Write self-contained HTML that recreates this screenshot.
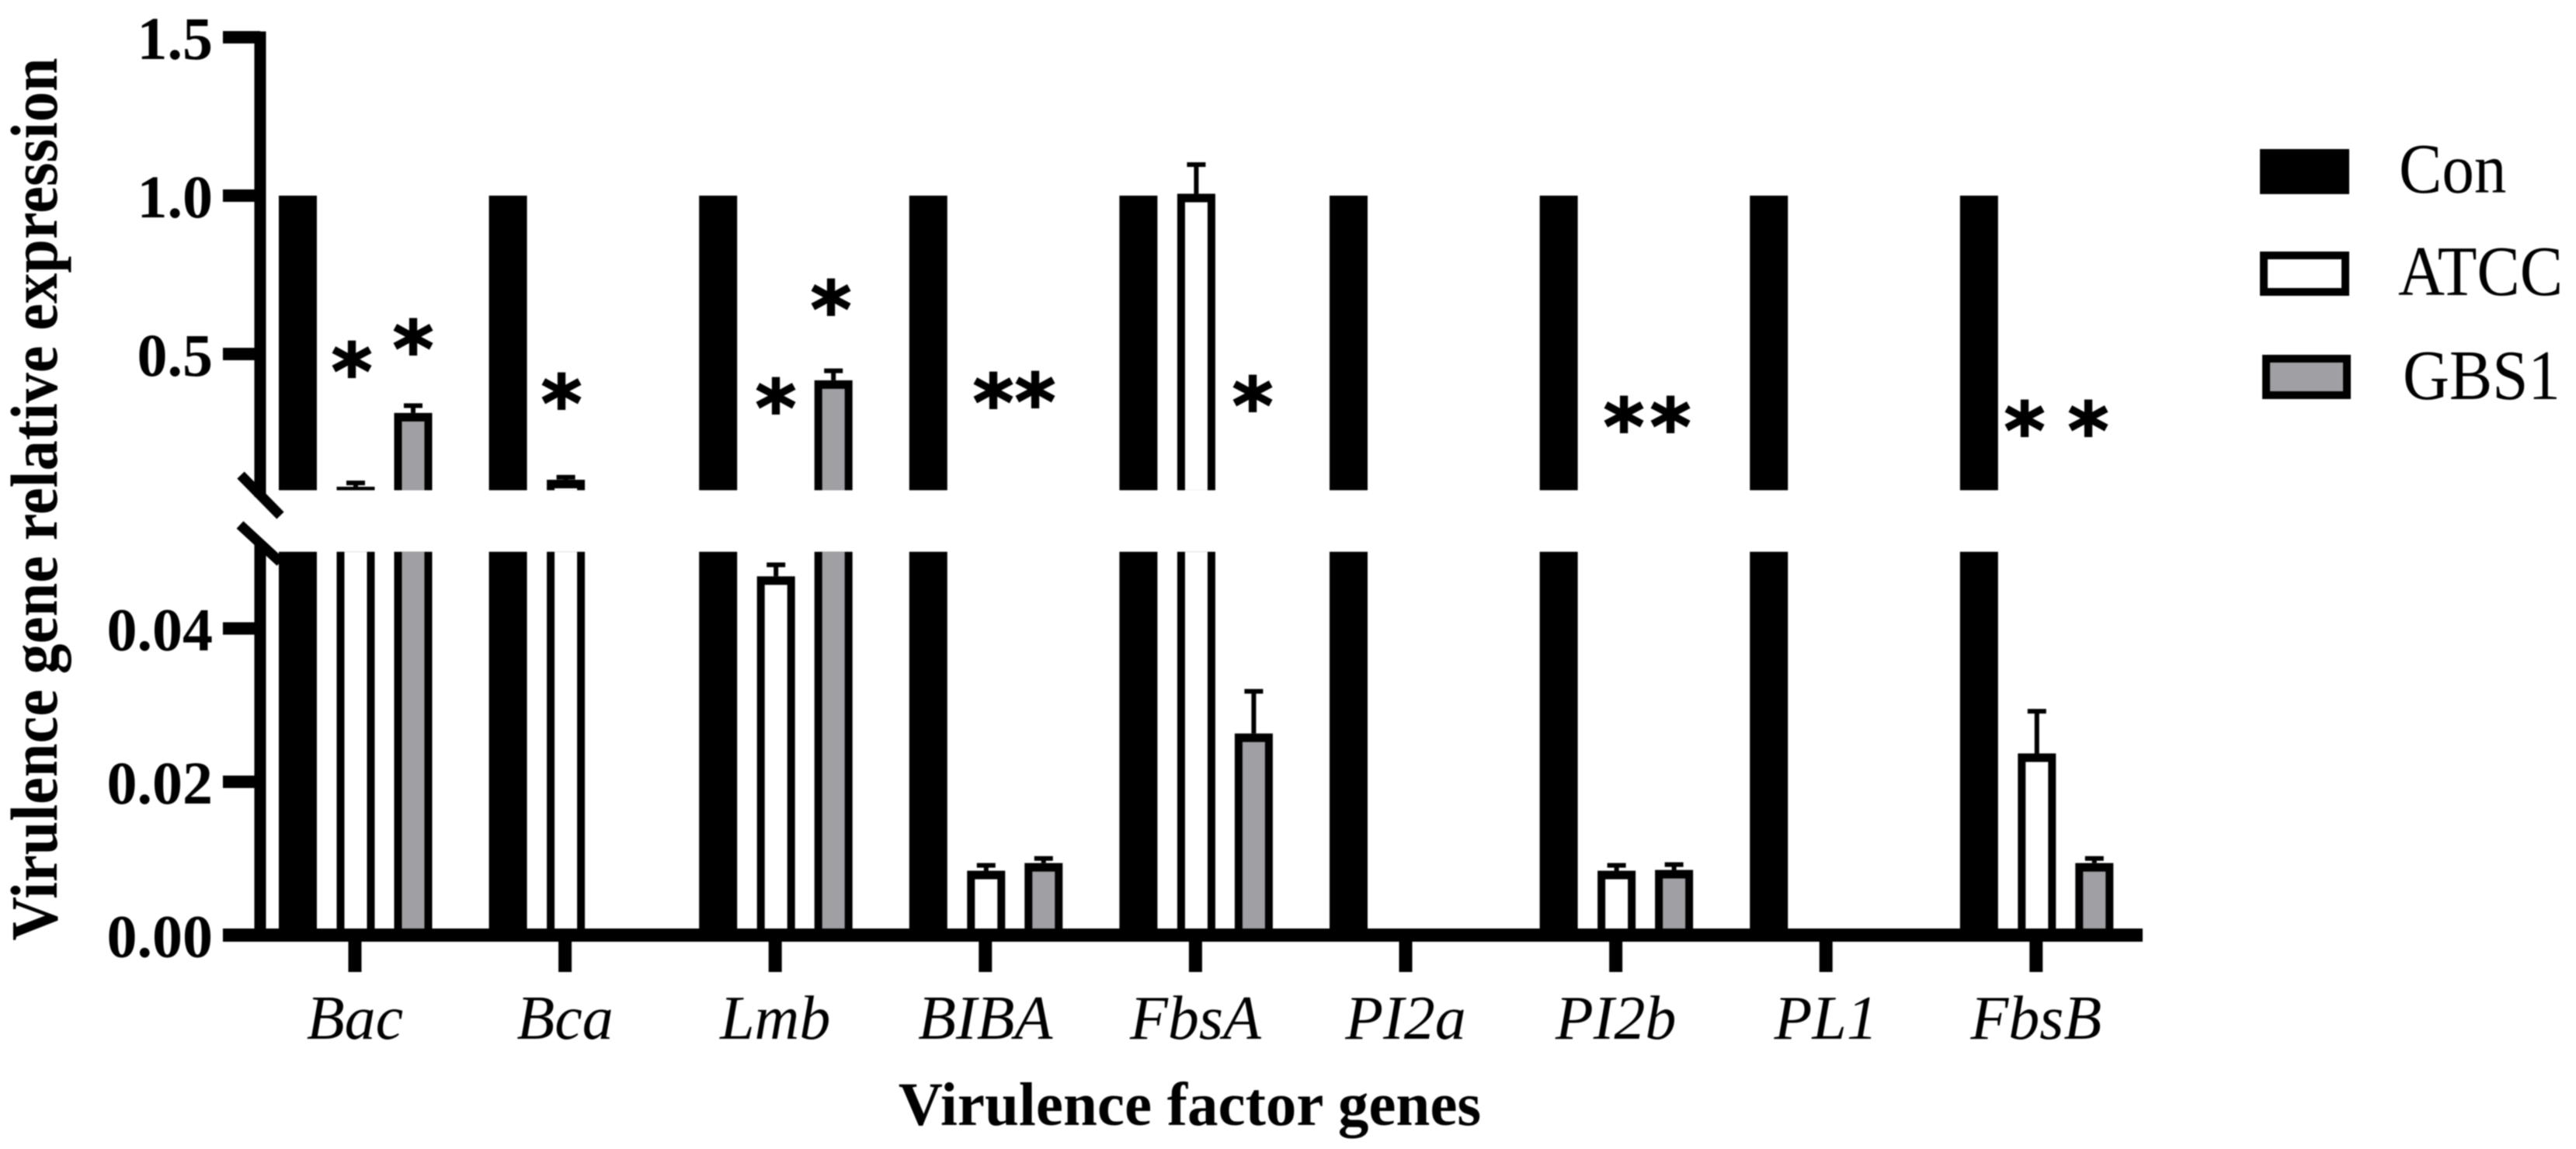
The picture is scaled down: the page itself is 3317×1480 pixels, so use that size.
<!DOCTYPE html>
<html lang="en">
<head>
<meta charset="utf-8">
<title>Virulence gene relative expression</title>
<style>
  html, body { margin: 0; padding: 0; background: #fff; }
  svg { display: block; filter: blur(0.7px); }
  text { font-family: "Liberation Serif", serif; fill: #000; }
  .tick-label { font-size: 78px; font-weight: bold; text-anchor: end; }
  .cat-label { font-size: 80px; font-style: italic; text-anchor: middle; }
  .axis-title { font-size: 78.4px; font-weight: bold; text-anchor: middle; }
  .x-title { font-size: 79px; }
  .legend-label { font-size: 83px; }
  .star { font-family: "DejaVu Sans", sans-serif; font-size: 100px; font-weight: bold; text-anchor: middle; stroke: #000; stroke-width: 2px; }
</style>
</head>
<body>
<svg id="chart" xmlns="http://www.w3.org/2000/svg" width="3317" height="1480" viewBox="0 0 3317 1480">
  <rect x="0" y="0" width="3317" height="1480" fill="#fff"/>
  <g id="bars"></g>
  <g id="axes"></g>

  <text class="axis-title" transform="translate(73 643) rotate(-90) scale(1 1.1)">Virulence gene relative expression</text>
  <text class="axis-title x-title" x="1532" y="1449">Virulence factor genes</text>

  <g>
    <text class="star" x="453" y="514">*</text>
    <text class="star" x="532" y="485">*</text>
    <text class="star" x="723" y="555">*</text>
    <text class="star" x="999" y="561">*</text>
    <text class="star" x="1070" y="434">*</text>
    <text class="star" x="1279" y="554">*</text>
    <text class="star" x="1333" y="553">*</text>
    <text class="star" x="1613" y="558">*</text>
    <text class="star" x="2091" y="585">*</text>
    <text class="star" x="2151" y="585">*</text>
    <text class="star" x="2607" y="590">*</text>
    <text class="star" x="2689" y="590">*</text>
  </g>

  <g>
    <g>
      <rect x="2910" y="192" width="115" height="58" fill="#000"/>
      <text class="legend-label" transform="translate(3089 248) scale(1 1.1)">Con</text>
    </g>
    <g>
      <rect x="2915" y="329" width="105" height="47" fill="#fff" stroke="#000" stroke-width="10"/>
      <text class="legend-label" transform="translate(3088 380) scale(1 1.1)">ATCC</text>
    </g>
    <g>
      <rect x="2918" y="462" width="104" height="47" fill="#a0a0a4" stroke="#000" stroke-width="10"/>
      <text class="legend-label" transform="translate(3094 514) scale(1 1.1)">GBS1</text>
    </g>
  </g>
</svg>

<script>
// ---- Chart data ----
const genes = ["Bac", "Bca", "Lmb", "BIBA", "FbsA", "PI2a", "PI2b", "PL1", "FbsB"];
const conValues = [1, 1, 1, 1, 1, 1, 1, 1, 1];
const atccValues = [0.081, 0.103, 0.0468, 0.0084, 1.006, 0, 0.0084, 0, 0.0237];
const atccErrors = [0.012, 0.008, 0.0015, 0.0007, 0.092, 0, 0.0007, 0, 0.0055];
const gbsValues = [0.314, 0, 0.417, 0.0094, 0.0263, 0, 0.0085, 0, 0.0094];
const gbsErrors = [0.023, 0, 0.030, 0.0006, 0.0055, 0, 0.0007, 0, 0.0006];
const upperTicks = [0.5, 1.0, 1.5];
const upperTickLabels = ["0.5", "1.0", "1.5"];
const lowerTicks = [0, 0.02, 0.04];
const lowerTickLabels = ["0.00", "0.02", "0.04"];

// ---- Axis functions ----
const LOWER_MAX = 0.05, UPPER_MIN = 0.07;
function yLower(v) { return 1204.5 - v * 9875; }
function yUpper(v) { return 252 + (1 - v) * 408; }
function yScale(v) { return v <= LOWER_MAX ? yLower(v) : yUpper(v); }
function xCategory(i) { return 457 + i * 270.6; }

const NS = "http://www.w3.org/2000/svg";
const barsLayer = document.getElementById("bars");
const axesLayer = document.getElementById("axes");

function rect(parent, x, y, w, h, fill) {
  const r = document.createElementNS(NS, "rect");
  r.setAttribute("x", x);
  r.setAttribute("y", y);
  r.setAttribute("width", w);
  r.setAttribute("height", Math.max(0, h));
  r.setAttribute("fill", fill);
  parent.appendChild(r);
  return r;
}

const BAR_W = 49, STROKE = 10, TOP_STROKE = 11;
const SEG_LOWER_TOP = yLower(LOWER_MAX), SEG_LOWER_BOTTOM = yLower(0);
const SEG_UPPER_BOTTOM = yUpper(UPPER_MIN);

function drawSegment(group, label, xc, top, bottom, capped, fill) {
  const outer = rect(group, xc - BAR_W / 2, top, BAR_W, bottom - top, "#000");
  
  
  if (fill !== "#000") {
    const innerTop = capped ? top + TOP_STROKE : top;
    const inner = rect(group, xc - BAR_W / 2 + STROKE, innerTop, BAR_W - 2 * STROKE, bottom - innerTop, fill);
    
    
  }
}

function drawBar(gene, seriesName, xc, value, error, fill) {
  if (value <= 0) return;
  const group = document.createElementNS(NS, "g");
  
  
  barsLayer.appendChild(group);
  const label = gene + '-' + seriesName;
  if (value > LOWER_MAX) {
    drawSegment(group, label + '-lower', xc, SEG_LOWER_TOP, SEG_LOWER_BOTTOM, false, fill);
    drawSegment(group, label + '-upper', xc, yUpper(value), SEG_UPPER_BOTTOM, true, fill);
  } else {
    drawSegment(group, label, xc, yLower(value), SEG_LOWER_BOTTOM, true, fill);
  }
  if (error > 0) {
    const yTop = yScale(value);
    const yErr = yScale(value + error);
    const stem = rect(group, xc - 3, yErr, 6, yTop - yErr, "#000");
    
    
    const cap = rect(group, xc - 12, yErr - 3, 24, 6, "#000");
    
    
  }
}

genes.forEach(function (gene, i) {
  const xc = xCategory(i);
  drawBar(gene, 'con', xc - 73.5, conValues[i], 0, "#000");
  drawBar(gene, 'atcc', xc + 1, atccValues[i], atccErrors[i], "#fff");
  drawBar(gene, 'gbs1', xc + 75, gbsValues[i], gbsErrors[i], "#a0a0a4");
});

// ---- Axes ----
const AXIS_X = 335, AXIS_W = 15, TICK_LEFT = 287;

const upperAxis = rect(axesLayer, AXIS_X - AXIS_W / 2, yUpper(1.5) - 7.5, AXIS_W, 640 - (yUpper(1.5) - 7.5), "#000");



const lowerAxis = rect(axesLayer, AXIS_X - AXIS_W / 2, 700, AXIS_W, SEG_LOWER_BOTTOM - 700, "#000");



const xAxis = rect(axesLayer, TICK_LEFT, SEG_LOWER_BOTTOM - 8.5, 2759 - TICK_LEFT, 17, "#000");



function drawYTick(parent, y, label) {
  const tick = rect(parent, TICK_LEFT, y - 8, AXIS_X - TICK_LEFT, 16, "#000");
  
  
  const t = document.createElementNS(NS, "text");
  t.setAttribute("class", "tick-label");
  t.setAttribute("x", 274);
  t.setAttribute("y", y + 28);
  t.textContent = label;
  
  
  parent.appendChild(t);
}
upperTicks.forEach(function (v, i) { drawYTick(axesLayer, yUpper(v), upperTickLabels[i]); });
lowerTicks.forEach(function (v, i) { drawYTick(axesLayer, yLower(v), lowerTickLabels[i]); });

genes.forEach(function (gene, i) {
  const xc = xCategory(i);
  const tick = rect(axesLayer, xc - 8.5, SEG_LOWER_BOTTOM, 17, 47.5, "#000");
  
  
  const t = document.createElementNS(NS, "text");
  t.setAttribute("class", "cat-label");
  t.setAttribute("x", xc);
  t.setAttribute("y", 1338);
  t.textContent = gene;
  
  
  axesLayer.appendChild(t);
});

// ---- Axis-break slashes ----
function drawSlash(x1, y1, x2, y2, name) {
  const l = document.createElementNS(NS, "line");
  l.setAttribute("x1", x1);
  l.setAttribute("y1", y1);
  l.setAttribute("x2", x2);
  l.setAttribute("y2", y2);
  l.setAttribute("stroke", "#000");
  l.setAttribute("stroke-width", 13);
  
  
  axesLayer.appendChild(l);
}
drawSlash(310, 612, 361, 664, 'axis-break-slash-upper');
drawSlash(309, 676, 361, 724, 'axis-break-slash-lower');
</script>
</body>
</html>
